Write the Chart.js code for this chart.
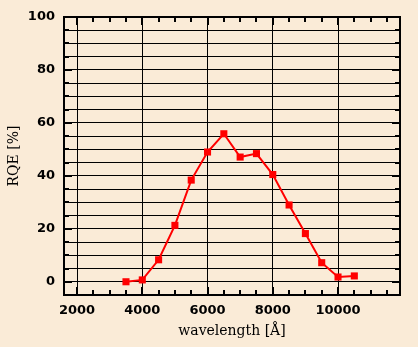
<!DOCTYPE html>
<html>
<head>
<meta charset="utf-8">
<script src="https://cdn.jsdelivr.net/npm/chart.js@4/dist/chart.umd.min.js"></script>
<style>
  html, body { margin: 0; padding: 0; background: #faebd7; }
  #wrap { width: 418px; height: 347px; }
</style>
</head>
<body>
<div id="wrap"><canvas id="myCanvas" width="418" height="347"></canvas></div>
<script>
// wavelength in Angstrom, RQE in percent
var wavelength = [3500, 4000, 4500, 5000, 5500, 6000, 6500, 7000, 7500, 8000, 8500, 9000, 9500, 10000, 10500];
var rqe = [0, 0.7, 8.3, 21.3, 38.4, 49, 55.9, 47.1, 48.4, 40.5, 29, 18.2, 7.2, 1.8, 2.2];

var xTickLabels = [2000, 4000, 6000, 8000, 10000];
var yTickLabels = [0, 20, 40, 60, 80, 100];

var points = [];
for (var i in wavelength) {
	points.push({x: wavelength[i], y: rqe[i]});
}

// frame and inward tick marks, like the original plot
var framePlugin = {
	id: 'frame',
	afterDraw: function(chart) {
		var ctx = chart.ctx;
		var a = chart.chartArea;
		var xs = chart.scales.x, ys = chart.scales.y;
		ctx.save();
		ctx.strokeStyle = '#000';
		ctx.lineWidth = 2;
		ctx.beginPath();
		xs.ticks.forEach(function(t) {
			var px = Math.round(xs.getPixelForValue(t.value));
			if (px <= a.left || px >= a.right) return;
			var len = xTickLabels.indexOf(t.value) >= 0 ? 8 : 5;
			ctx.moveTo(px, a.bottom); ctx.lineTo(px, a.bottom - len);
			ctx.moveTo(px, a.top); ctx.lineTo(px, a.top + len);
		});
		ys.ticks.forEach(function(t) {
			var py = Math.round(ys.getPixelForValue(t.value));
			if (py <= a.top + 1 || py >= a.bottom - 1) return;
			var len = yTickLabels.indexOf(t.value) >= 0 ? 8 : 5;
			ctx.moveTo(a.left, py); ctx.lineTo(a.left + len, py);
			ctx.moveTo(a.right, py); ctx.lineTo(a.right - len, py);
		});
		ctx.stroke();
		ctx.strokeRect(a.left, a.top, a.right - a.left, a.bottom - a.top);
		ctx.restore();
	}
};

var ctx = document.getElementById('myCanvas');

var lineGraph = new Chart(ctx, {
	type: 'scatter',
	data: {
		datasets: [{
			label: 'RQE',
			data: points,
			showLine: true,
			tension: 0,
			borderColor: '#ff0000',
			backgroundColor: '#ff0000',
			borderWidth: 2,
			pointStyle: 'rect',
			pointRadius: 5,
			pointBorderWidth: 0,
			pointHoverRadius: 5
		}]
	},
	plugins: [framePlugin],
	options: {
		responsive: false,
		animation: false,
		layout: { padding: { top: 17, right: 18, left: 0, bottom: 0 } },
		plugins: {
			legend: { display: false },
			tooltip: { enabled: false }
		},
		scales: {
			x: {
				type: 'linear',
				min: 1600,
				max: 11900,
				afterFit: function(scale) { scale.height = 52; },
				afterBuildTicks: function(scale) {
					var t = [];
					for (var v = 2000; v <= 11500; v += 500) t.push({value: v});
					scale.ticks = t;
				},
				border: { display: false },
				grid: {
					drawTicks: false,
					lineWidth: 1,
					color: function(c) {
						return xTickLabels.indexOf(c.tick.value) >= 0 ? '#000' : 'rgba(0,0,0,0)';
					}
				},
				ticks: {
					autoSkip: false,
					maxRotation: 0,
					padding: 8,
					color: '#000',
					font: { family: 'DejaVu Sans', weight: 'bold', size: 13 },
					callback: function(v) {
						return xTickLabels.indexOf(v) >= 0 ? String(v) : '';
					}
				},
				title: {
					display: true,
					text: 'wavelength [Å]',
					color: '#000',
					padding: { top: 0, bottom: 7 },
					font: { family: 'DejaVu Serif', size: 14 }
				}
			},
			y: {
				type: 'linear',
				min: -5,
				max: 100,
				afterFit: function(scale) { scale.width = 64; },
				afterBuildTicks: function(scale) {
					var t = [];
					for (var v = 0; v <= 100; v += 5) t.push({value: v});
					scale.ticks = t;
				},
				border: { display: false },
				grid: {
					drawTicks: false,
					lineWidth: 1,
					color: '#000'
				},
				ticks: {
					autoSkip: false,
					padding: 9,
					color: '#000',
					font: { family: 'DejaVu Sans', weight: 'bold', size: 13 },
					callback: function(v) {
						return yTickLabels.indexOf(v) >= 0 ? String(v) : '';
					}
				},
				title: {
					display: true,
					text: 'RQE [%]',
					color: '#000',
					padding: { top: 6, bottom: 0 },
					font: { family: 'DejaVu Serif', size: 14 }
				}
			}
		}
	}
});
</script>
</body>
</html>
